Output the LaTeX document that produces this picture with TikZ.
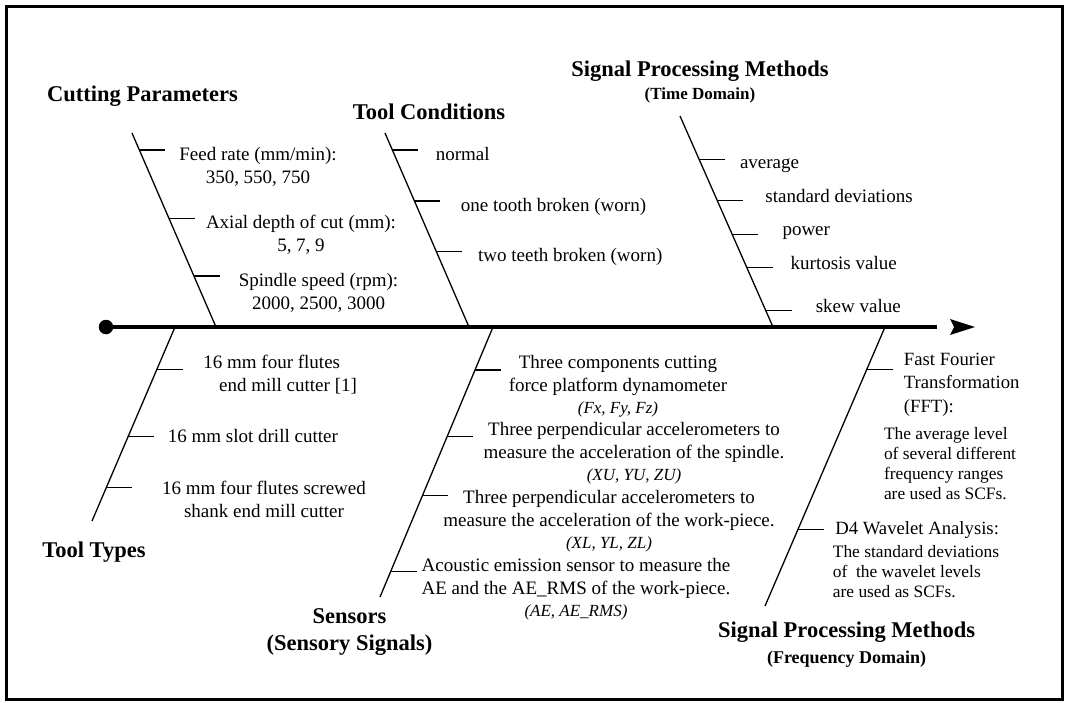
\documentclass[tikz,border=0pt]{standalone}
\usepackage{fontspec}
\setmainfont{Liberation Serif}
\begin{document}
\begin{tikzpicture}[x=1pt,y=-1pt,
  bone/.style={line width=1.3pt},
  tickln/.style={line width=1.3pt},
  ttl/.style={font=\fontsize{22.5}{26.5}\selectfont\bfseries, inner sep=0pt},
  itm/.style={font=\fontsize{19}{23.3}\selectfont, inner sep=0pt},
  one/.style={itm, anchor=west, text height=13pt, text depth=4pt},
  sml/.style={font=\fontsize{17.4}{19.8}\selectfont, inner sep=0pt, align=left, anchor=west},
  hd/.style={font=\fontsize{18.7}{23.3}\selectfont, inner sep=0pt},
  sub/.style={font=\fontsize{17}{20}\selectfont\itshape},
]
\useasboundingbox (0,0) rectangle (1067,702);
\draw[line width=2.5pt] (6.5,6.5) rectangle (1062.5,699.5);

% spine
\node[circle, fill, inner sep=0pt, minimum size=14.5pt] (tail) at (106,327) {};
\coordinate (spineend) at (937,327);
\coordinate (head) at (975,327);
\draw[line width=3.3pt] (tail.center) -- (spineend);
\fill (head) -- ++(-25,-8) -- ++(4,8) -- ++(-4,8) -- cycle;

% branch coordinates
\coordinate (cpT) at (132,133);  \coordinate (cpB) at (216,327);
\coordinate (tcT) at (385,133);  \coordinate (tcB) at (469,327);
\coordinate (stT) at (680,116);  \coordinate (stB) at (773,327);
\coordinate (ttS) at (175,327);  \coordinate (ttE) at (92,521);
\coordinate (snS) at (493,327);  \coordinate (snE) at (380,597);
\coordinate (fdS) at (885,327);  \coordinate (fdE) at (765,606);

\draw[bone] (cpT) -- (cpB);
\draw[bone] (tcT) -- (tcB);
\draw[bone] (stT) -- (stB);
\draw[bone] (ttS) -- (ttE);
\draw[bone] (snS) -- (snE);
\draw[bone] (fdS) -- (fdE);

% tick points
\path (cpT) -- (cpB) coordinate[pos=.0876] (cp1) coordinate[pos=.44] (cp2) coordinate[pos=.737] (cp3);
\path (tcT) -- (tcB) coordinate[pos=.0876] (tc1) coordinate[pos=.3505] (tc2) coordinate[pos=.612] (tc3);
\path (stT) -- (stB) coordinate[pos=.205] (st1) coordinate[pos=.401] (st2) coordinate[pos=.561] (st3)
                     coordinate[pos=.719] (st4) coordinate[pos=.923] (st5);
\path (ttS) -- (ttE) coordinate[pos=.218] (tt1) coordinate[pos=.565] (tt2) coordinate[pos=.826] (tt3);
\path (snS) -- (snE) coordinate[pos=.159] (sn1) coordinate[pos=.406] (sn2) coordinate[pos=.625] (sn3)
                     coordinate[pos=.906] (sn4);
\path (fdS) -- (fdE) coordinate[pos=.152] (fd1) coordinate[pos=.725] (fd2);

\foreach \t in {cp1,cp2,cp3,tc1,tc2,tc3,st1,st2,st3,st4,st5,tt1,tt2,tt3,sn1,sn2,sn3,sn4,fd1,fd2}
  \draw[tickln] (\t) -- ++(26,0);

% titles
\node[ttl] (cpTitle) at (142.5,96) {Cutting Parameters};
\node[ttl] (tcTitle) at (429,111.7) {Tool Conditions};
\node[ttl, align=center] (stTitle) at (700,82.3) {Signal Processing Methods\\[-3.6pt]{\fontsize{17}{20}\selectfont (Time Domain)}};
\node[ttl] (ttTitle) at (94,552) {Tool Types};
\node[ttl, align=center] (snTitle) at (349.5,632) {Sensors\\(Sensory Signals)};
\node[ttl, align=center] (fdTitle) at (846.6,644.5) {Signal Processing Methods\\[-0.7pt]{\fontsize{18}{20}\selectfont (Frequency Domain)}};

% cutting parameters
\node[itm, align=center] (cpa) at (258,166.7) {Feed rate (mm/min):\\350, 550, 750};
\node[itm, align=center] (cpb) at (301,234.5) {Axial depth of cut (mm):\\5, 7, 9};
\node[itm, align=center] (cpc) at (318.5,292.7) {Spindle speed (rpm):\\2000, 2500, 3000};

% tool conditions
\node[one] (tca) at (435.6,155.5) {normal};
\node[one] (tcb) at (460.7,206.5) {one tooth broken (worn)};
\node[one] (tcc) at (478,257.2) {two teeth broken (worn)};

% time domain
\node[one] (sta) at (739.8,164.2) {average};
\node[one] (stb) at (765.2,197.5) {standard deviations};
\node[one] (stc) at (782.3,230.8) {power};
\node[one] (std) at (790.5,264.8) {kurtosis value};
\node[one] (ste) at (815.6,307.5) {skew value};

% tool types
\node[itm, align=left, anchor=west] (tta) at (203.2,374.7) {16 mm four flutes\\[-1pt]\hspace*{15.8pt}end mill cutter [1]};
\node[one] (ttb) at (167.7,438.2) {16 mm slot drill cutter};
\node[itm, align=center] (ttc) at (264,499.1) {16 mm four flutes screwed\\shank end mill cutter};

% sensors
\node[itm, align=center] (sna) at (618,386) {Three components cutting\\force platform dynamometer\\[-1.5pt]{\fontsize{17}{20}\selectfont\itshape (Fx, Fy, Fz)}};
\node[itm, align=center] (snb) at (634,453.4) {Three perpendicular accelerometers to\\measure the acceleration of the spindle.\\[-1.5pt]{\fontsize{17}{20}\selectfont\itshape (XU, YU, ZU)}};
\node[itm, align=center] (snc) at (609,520.8) {Three perpendicular accelerometers to\\measure the acceleration of the work-piece.\\[-1.5pt]{\fontsize{17}{20}\selectfont\itshape (XL, YL, ZL)}};
\node[itm, align=center] (snd) at (576,589) {Acoustic emission sensor to measure the\\AE and the AE\_RMS of the work-piece.\\[-1.5pt]{\fontsize{17}{20}\selectfont\itshape (AE, AE\_RMS)}};

% frequency domain
\node[hd, align=left, anchor=west] (fda) at (903.7,384.6) {Fast Fourier\\Transformation\\(FFT):};
\node[sml] (fdb) at (883.8,463.5) {The average level\\of several different\\frequency ranges\\are used as SCFs.};
\node[hd, anchor=west, text height=12.5pt, text depth=4pt] (fdc) at (835.1,529.8) {D4 Wavelet Analysis:};
\node[sml] (fdd) at (832.7,571.5) {The standard deviations\\of\ \ the wavelet levels\\are used as SCFs.};
\end{tikzpicture}
\end{document}
